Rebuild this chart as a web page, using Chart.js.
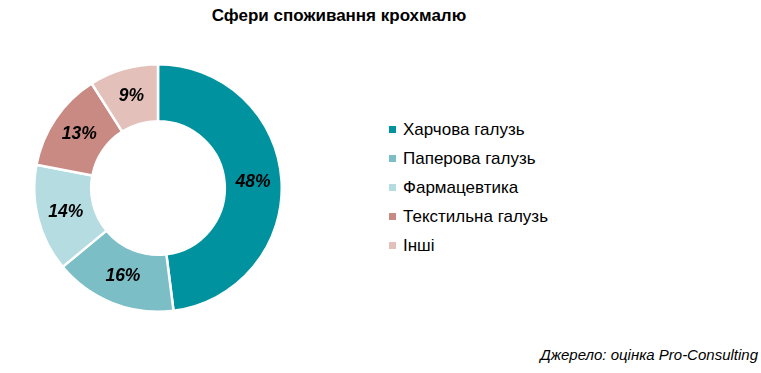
<!DOCTYPE html>
<html><head><meta charset="utf-8">
<script src="https://cdn.jsdelivr.net/npm/chart.js@4"></script>
<style>
html,body{margin:0;padding:0;background:#fff;width:761px;height:373px;overflow:hidden;font-family:"Liberation Sans",Arial,sans-serif;}
#title{position:absolute;left:0;width:678px;top:6px;text-align:center;font-weight:bold;font-size:17px;color:#000;}
#wrap{position:absolute;left:33px;top:63px;width:250px;height:250px;}
#legend{position:absolute;left:389px;top:115px;}
.li{height:29px;display:flex;align-items:center;font-size:17px;color:#000;}
.sw{width:7px;height:7px;margin-right:7px;}
#src{position:absolute;right:3px;top:346px;font-style:italic;font-size:15px;color:#000;}
</style></head><body>
<div id="title">Сфери споживання крохмалю</div>
<div id="wrap"><canvas id="c" width="250" height="250"></canvas></div>
<div id="legend"></div>
<div id="src">Джерело: оцінка Pro-Consulting</div>
<script>
const categories = ["Харчова галузь","Паперова галузь","Фармацевтика","Текстильна галузь","Інші"];
const values = [48,16,14,13,9];
const colors = ["#00939F","#7BBEC6","#B5DCE0","#C98A83","#E3C0B9"];

const lg = document.getElementById('legend');
categories.forEach((c,i)=>{
  const d=document.createElement('div');d.className='li';
  d.innerHTML='<span class="sw" style="background:'+colors[i]+'"></span><span>'+c+'</span>';
  lg.appendChild(d);
});

const labelPlugin = {
  id:'lbl',
  afterDatasetsDraw(chart){
    const ctx=chart.ctx;
    const meta=chart.getDatasetMeta(0);
    ctx.save();
    ctx.font='italic bold 17.5px "Liberation Sans", Arial, sans-serif';
    ctx.fillStyle='#000';
    ctx.textAlign='center';ctx.textBaseline='middle';
    meta.data.forEach((arc,i)=>{
      const p=arc.tooltipPosition();
      ctx.fillText(values[i]+'%',p.x,p.y);
    });
    ctx.restore();
  }
};

new Chart(document.getElementById('c'),{
  type:'doughnut',
  data:{labels:categories,datasets:[{data:values,backgroundColor:colors,borderColor:'#fff',borderWidth:2.5}]},
  options:{responsive:false,animation:false,cutout:'54%',
    layout:{padding:0},
    plugins:{legend:{display:false},tooltip:{enabled:false}}},
  plugins:[labelPlugin]
});
</script>
</body></html>
